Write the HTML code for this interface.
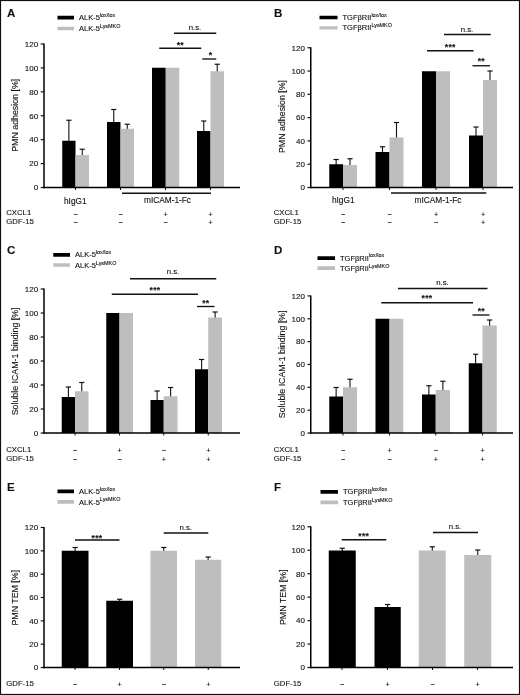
<!DOCTYPE html>
<html lang="en"><head><meta charset="utf-8"><title>Figure</title>
<style>
html,body{margin:0;padding:0;background:#fff;}
body{width:520px;height:695px;overflow:hidden;}
svg{display:block;will-change:transform;}
svg text{font-family:"Liberation Sans", Arial, Helvetica, sans-serif;fill:#111;stroke:#111;stroke-width:0.12px;}
</style></head><body>
<svg width="520" height="695" viewBox="0 0 520 695">
<rect x="0" y="0" width="520" height="695" fill="#fff"/>
<line x1="68.875" y1="141.75" x2="68.875" y2="120.25" stroke="#111" stroke-width="1.1"/>
<line x1="66.275" y1="120.25" x2="71.475" y2="120.25" stroke="#111" stroke-width="1.2"/>
<rect x="62.25" y="140.75" width="13.25" height="46.75" fill="#000"/>
<line x1="82.25" y1="156" x2="82.25" y2="149.25" stroke="#111" stroke-width="1.1"/>
<line x1="79.65" y1="149.25" x2="84.85" y2="149.25" stroke="#111" stroke-width="1.2"/>
<rect x="75.5" y="155" width="13.5" height="32.5" fill="#bebebe"/>
<line x1="113.75" y1="123" x2="113.75" y2="109.5" stroke="#111" stroke-width="1.1"/>
<line x1="111.15" y1="109.5" x2="116.35" y2="109.5" stroke="#111" stroke-width="1.2"/>
<rect x="107" y="122" width="13.5" height="65.5" fill="#000"/>
<line x1="127.25" y1="129.75" x2="127.25" y2="124.25" stroke="#111" stroke-width="1.1"/>
<line x1="124.65" y1="124.25" x2="129.85" y2="124.25" stroke="#111" stroke-width="1.2"/>
<rect x="120.5" y="128.75" width="13.5" height="58.75" fill="#bebebe"/>
<rect x="152" y="67.75" width="13.75" height="119.75" fill="#000"/>
<rect x="165.75" y="67.75" width="13.5" height="119.75" fill="#bebebe"/>
<line x1="203.75" y1="132" x2="203.75" y2="121" stroke="#111" stroke-width="1.1"/>
<line x1="201.15" y1="121" x2="206.35" y2="121" stroke="#111" stroke-width="1.2"/>
<rect x="197" y="131" width="13.5" height="56.5" fill="#000"/>
<line x1="217.25" y1="72.25" x2="217.25" y2="64.25" stroke="#111" stroke-width="1.1"/>
<line x1="214.65" y1="64.25" x2="219.85" y2="64.25" stroke="#111" stroke-width="1.2"/>
<rect x="210.5" y="71.25" width="13.5" height="116.25" fill="#bebebe"/>
<line x1="44" y1="43.5" x2="44" y2="188.2" stroke="#000" stroke-width="1.5"/>
<line x1="43.3" y1="187.5" x2="240" y2="187.5" stroke="#000" stroke-width="1.5"/>
<line x1="40.7" y1="187.5" x2="44" y2="187.5" stroke="#111" stroke-width="1.2"/>
<text x="38.2" y="190.3" font-size="8.0" text-anchor="end" font-weight="normal" >0</text>
<line x1="40.7" y1="163.58" x2="44" y2="163.58" stroke="#111" stroke-width="1.2"/>
<text x="38.2" y="166.38" font-size="8.0" text-anchor="end" font-weight="normal" >20</text>
<line x1="40.7" y1="139.67" x2="44" y2="139.67" stroke="#111" stroke-width="1.2"/>
<text x="38.2" y="142.47" font-size="8.0" text-anchor="end" font-weight="normal" >40</text>
<line x1="40.7" y1="115.75" x2="44" y2="115.75" stroke="#111" stroke-width="1.2"/>
<text x="38.2" y="118.55" font-size="8.0" text-anchor="end" font-weight="normal" >60</text>
<line x1="40.7" y1="91.83" x2="44" y2="91.83" stroke="#111" stroke-width="1.2"/>
<text x="38.2" y="94.63" font-size="8.0" text-anchor="end" font-weight="normal" >80</text>
<line x1="40.7" y1="67.92" x2="44" y2="67.92" stroke="#111" stroke-width="1.2"/>
<text x="38.2" y="70.72" font-size="8.0" text-anchor="end" font-weight="normal" >100</text>
<line x1="40.7" y1="44.0" x2="44" y2="44.0" stroke="#111" stroke-width="1.2"/>
<text x="38.2" y="46.8" font-size="8.0" text-anchor="end" font-weight="normal" >120</text>
<line x1="75.5" y1="187.5" x2="75.5" y2="190.0" stroke="#111" stroke-width="1.0"/>
<line x1="120.5" y1="187.5" x2="120.5" y2="190.0" stroke="#111" stroke-width="1.0"/>
<line x1="165.5" y1="187.5" x2="165.5" y2="190.0" stroke="#111" stroke-width="1.0"/>
<line x1="210.5" y1="187.5" x2="210.5" y2="190.0" stroke="#111" stroke-width="1.0"/>
<text x="75.3" y="203.7" font-size="8.3" text-anchor="middle" font-weight="normal" >hIgG1</text>
<text x="167.5" y="203.25" font-size="8.3" text-anchor="middle" font-weight="normal" >mICAM-1-Fc</text>
<line x1="122" y1="193.25" x2="211" y2="193.25" stroke="#111" stroke-width="1.3"/>
<text x="6.25" y="215.25" font-size="7.75" text-anchor="start" font-weight="normal" >CXCL1</text>
<text x="6.25" y="224" font-size="7.75" text-anchor="start" font-weight="normal" >GDF-15</text>
<text x="75.5" y="216.5" font-size="7.2" text-anchor="middle" font-weight="normal" >−</text>
<text x="120.5" y="216.5" font-size="7.2" text-anchor="middle" font-weight="normal" >−</text>
<text x="165.5" y="216.5" font-size="7.2" text-anchor="middle" font-weight="normal" >+</text>
<text x="210.5" y="216.5" font-size="7.2" text-anchor="middle" font-weight="normal" >+</text>
<text x="75.5" y="225.25" font-size="7.2" text-anchor="middle" font-weight="normal" >−</text>
<text x="120.5" y="225.25" font-size="7.2" text-anchor="middle" font-weight="normal" >−</text>
<text x="165.5" y="225.25" font-size="7.2" text-anchor="middle" font-weight="normal" >−</text>
<text x="210.5" y="225.25" font-size="7.2" text-anchor="middle" font-weight="normal" >+</text>
<line x1="174" y1="33.25" x2="216.25" y2="33.25" stroke="#111" stroke-width="1.35"/>
<text x="195" y="30.3" font-size="7.8" text-anchor="middle" font-weight="normal" >n.s.</text>
<line x1="159.25" y1="48.25" x2="201.25" y2="48.25" stroke="#111" stroke-width="1.35"/>
<text x="180.25" y="47.65" font-size="8.6" text-anchor="middle" font-weight="bold" stroke-width="0" letter-spacing="0.25">**</text>
<line x1="202.25" y1="59" x2="216.25" y2="59" stroke="#111" stroke-width="1.35"/>
<text x="210.5" y="57.9" font-size="8.6" text-anchor="middle" font-weight="bold" stroke-width="0" letter-spacing="0.25">*</text>
<rect x="57.5" y="15.75" width="16.5" height="3.75" fill="#000"/>
<rect x="57.5" y="26.75" width="16.5" height="3.5" fill="#bebebe"/>
<text x="79" y="20" font-size="7.5">ALK-5<tspan font-size="5.4" dy="-3.1">lox/lox</tspan></text>
<text x="79" y="30.75" font-size="7.5">ALK-5<tspan font-size="5.4" dy="-3.1">LysMKO</tspan></text>
<text x="7" y="17" font-size="11.5" text-anchor="start" font-weight="bold" >A</text>
<text transform="translate(18,115.3) rotate(-90) scale(0.93,1)" font-size="9.5" text-anchor="middle">PMN adhesion [%]</text>
<line x1="336.125" y1="165.25" x2="336.125" y2="159.5" stroke="#111" stroke-width="1.1"/>
<line x1="333.525" y1="159.5" x2="338.725" y2="159.5" stroke="#111" stroke-width="1.2"/>
<rect x="329.25" y="164.25" width="13.75" height="23.25" fill="#000"/>
<line x1="350.0" y1="166" x2="350.0" y2="158.75" stroke="#111" stroke-width="1.1"/>
<line x1="347.4" y1="158.75" x2="352.6" y2="158.75" stroke="#111" stroke-width="1.2"/>
<rect x="343" y="165" width="14" height="22.5" fill="#bebebe"/>
<line x1="382.5" y1="153" x2="382.5" y2="146.75" stroke="#111" stroke-width="1.1"/>
<line x1="379.9" y1="146.75" x2="385.1" y2="146.75" stroke="#111" stroke-width="1.2"/>
<rect x="375.5" y="152" width="14.0" height="35.5" fill="#000"/>
<line x1="396.5" y1="138.5" x2="396.5" y2="122.5" stroke="#111" stroke-width="1.1"/>
<line x1="393.9" y1="122.5" x2="399.1" y2="122.5" stroke="#111" stroke-width="1.2"/>
<rect x="389.5" y="137.5" width="14.0" height="50.0" fill="#bebebe"/>
<rect x="422" y="71.25" width="14" height="116.25" fill="#000"/>
<rect x="436" y="71.25" width="14" height="116.25" fill="#bebebe"/>
<line x1="476.0" y1="136.5" x2="476.0" y2="127" stroke="#111" stroke-width="1.1"/>
<line x1="473.4" y1="127" x2="478.6" y2="127" stroke="#111" stroke-width="1.2"/>
<rect x="469" y="135.5" width="14" height="52.0" fill="#000"/>
<line x1="490.0" y1="81" x2="490.0" y2="71" stroke="#111" stroke-width="1.1"/>
<line x1="487.4" y1="71" x2="492.6" y2="71" stroke="#111" stroke-width="1.2"/>
<rect x="483" y="80" width="14" height="107.5" fill="#bebebe"/>
<line x1="310.75" y1="47.25" x2="310.75" y2="188.2" stroke="#000" stroke-width="1.5"/>
<line x1="310.05" y1="187.5" x2="513" y2="187.5" stroke="#000" stroke-width="1.5"/>
<line x1="307.45" y1="187.5" x2="310.75" y2="187.5" stroke="#111" stroke-width="1.2"/>
<text x="304.95" y="190.3" font-size="8.0" text-anchor="end" font-weight="normal" >0</text>
<line x1="307.45" y1="164.21" x2="310.75" y2="164.21" stroke="#111" stroke-width="1.2"/>
<text x="304.95" y="167.01" font-size="8.0" text-anchor="end" font-weight="normal" >20</text>
<line x1="307.45" y1="140.92" x2="310.75" y2="140.92" stroke="#111" stroke-width="1.2"/>
<text x="304.95" y="143.72" font-size="8.0" text-anchor="end" font-weight="normal" >40</text>
<line x1="307.45" y1="117.62" x2="310.75" y2="117.62" stroke="#111" stroke-width="1.2"/>
<text x="304.95" y="120.42" font-size="8.0" text-anchor="end" font-weight="normal" >60</text>
<line x1="307.45" y1="94.33" x2="310.75" y2="94.33" stroke="#111" stroke-width="1.2"/>
<text x="304.95" y="97.13" font-size="8.0" text-anchor="end" font-weight="normal" >80</text>
<line x1="307.45" y1="71.04" x2="310.75" y2="71.04" stroke="#111" stroke-width="1.2"/>
<text x="304.95" y="73.84" font-size="8.0" text-anchor="end" font-weight="normal" >100</text>
<line x1="307.45" y1="47.75" x2="310.75" y2="47.75" stroke="#111" stroke-width="1.2"/>
<text x="304.95" y="50.55" font-size="8.0" text-anchor="end" font-weight="normal" >120</text>
<line x1="343" y1="187.5" x2="343" y2="190.0" stroke="#111" stroke-width="1.0"/>
<line x1="389.5" y1="187.5" x2="389.5" y2="190.0" stroke="#111" stroke-width="1.0"/>
<line x1="436" y1="187.5" x2="436" y2="190.0" stroke="#111" stroke-width="1.0"/>
<line x1="483" y1="187.5" x2="483" y2="190.0" stroke="#111" stroke-width="1.0"/>
<text x="343.25" y="203.25" font-size="8.3" text-anchor="middle" font-weight="normal" >hIgG1</text>
<text x="438" y="203.25" font-size="8.3" text-anchor="middle" font-weight="normal" >mICAM-1-Fc</text>
<line x1="391" y1="193" x2="486.25" y2="193" stroke="#111" stroke-width="1.3"/>
<text x="273.75" y="215.25" font-size="7.75" text-anchor="start" font-weight="normal" >CXCL1</text>
<text x="273.75" y="224" font-size="7.75" text-anchor="start" font-weight="normal" >GDF-15</text>
<text x="343" y="216.5" font-size="7.2" text-anchor="middle" font-weight="normal" >−</text>
<text x="389.5" y="216.5" font-size="7.2" text-anchor="middle" font-weight="normal" >−</text>
<text x="436" y="216.5" font-size="7.2" text-anchor="middle" font-weight="normal" >+</text>
<text x="483" y="216.5" font-size="7.2" text-anchor="middle" font-weight="normal" >+</text>
<text x="343" y="225.25" font-size="7.2" text-anchor="middle" font-weight="normal" >−</text>
<text x="389.5" y="225.25" font-size="7.2" text-anchor="middle" font-weight="normal" >−</text>
<text x="436" y="225.25" font-size="7.2" text-anchor="middle" font-weight="normal" >−</text>
<text x="483" y="225.25" font-size="7.2" text-anchor="middle" font-weight="normal" >+</text>
<line x1="444" y1="34.5" x2="490.75" y2="34.5" stroke="#111" stroke-width="1.35"/>
<text x="467" y="31.55" font-size="7.8" text-anchor="middle" font-weight="normal" >n.s.</text>
<line x1="427" y1="50.75" x2="473.5" y2="50.75" stroke="#111" stroke-width="1.35"/>
<text x="450.25" y="49.65" font-size="8.6" text-anchor="middle" font-weight="bold" stroke-width="0" letter-spacing="0.25">***</text>
<line x1="472.5" y1="65.75" x2="490" y2="65.75" stroke="#111" stroke-width="1.35"/>
<text x="481.25" y="63.9" font-size="8.6" text-anchor="middle" font-weight="bold" stroke-width="0" letter-spacing="0.25">**</text>
<rect x="319.5" y="15.75" width="18.0" height="3.5" fill="#000"/>
<rect x="319.5" y="26.25" width="18.0" height="3.25" fill="#bebebe"/>
<text x="342.5" y="19.75" font-size="7.5">TGFβRII<tspan font-size="5.4" dy="-3.1">lox/lox</tspan></text>
<text x="342.5" y="30.25" font-size="7.5">TGFβRII<tspan font-size="5.4" dy="-3.1">LysMKO</tspan></text>
<text x="274" y="17" font-size="11.5" text-anchor="start" font-weight="bold" >B</text>
<text transform="translate(285,116.5) rotate(-90) scale(0.93,1)" font-size="9.5" text-anchor="middle">PMN adhesion [%]</text>
<line x1="68.375" y1="398" x2="68.375" y2="387" stroke="#111" stroke-width="1.1"/>
<line x1="65.775" y1="387" x2="70.975" y2="387" stroke="#111" stroke-width="1.2"/>
<rect x="61.75" y="397" width="13.25" height="36" fill="#000"/>
<line x1="81.75" y1="392.25" x2="81.75" y2="382.5" stroke="#111" stroke-width="1.1"/>
<line x1="79.15" y1="382.5" x2="84.35" y2="382.5" stroke="#111" stroke-width="1.2"/>
<rect x="75" y="391.25" width="13.5" height="41.75" fill="#bebebe"/>
<rect x="106.25" y="313" width="13.25" height="120" fill="#000"/>
<rect x="119.5" y="313" width="13.5" height="120" fill="#bebebe"/>
<line x1="157.125" y1="401" x2="157.125" y2="391" stroke="#111" stroke-width="1.1"/>
<line x1="154.525" y1="391" x2="159.725" y2="391" stroke="#111" stroke-width="1.2"/>
<rect x="150.5" y="400" width="13.25" height="33" fill="#000"/>
<line x1="170.625" y1="397.25" x2="170.625" y2="387.5" stroke="#111" stroke-width="1.1"/>
<line x1="168.025" y1="387.5" x2="173.225" y2="387.5" stroke="#111" stroke-width="1.2"/>
<rect x="163.75" y="396.25" width="13.75" height="36.75" fill="#bebebe"/>
<line x1="201.625" y1="370.25" x2="201.625" y2="359.5" stroke="#111" stroke-width="1.1"/>
<line x1="199.025" y1="359.5" x2="204.225" y2="359.5" stroke="#111" stroke-width="1.2"/>
<rect x="195" y="369.25" width="13.25" height="63.75" fill="#000"/>
<line x1="215.125" y1="318.5" x2="215.125" y2="312" stroke="#111" stroke-width="1.1"/>
<line x1="212.525" y1="312" x2="217.725" y2="312" stroke="#111" stroke-width="1.2"/>
<rect x="208.25" y="317.5" width="13.75" height="115.5" fill="#bebebe"/>
<line x1="44" y1="288.5" x2="44" y2="433.7" stroke="#000" stroke-width="1.5"/>
<line x1="43.3" y1="433" x2="240" y2="433" stroke="#000" stroke-width="1.5"/>
<line x1="40.7" y1="433.0" x2="44" y2="433.0" stroke="#111" stroke-width="1.2"/>
<text x="38.2" y="435.8" font-size="8.0" text-anchor="end" font-weight="normal" >0</text>
<line x1="40.7" y1="409.0" x2="44" y2="409.0" stroke="#111" stroke-width="1.2"/>
<text x="38.2" y="411.8" font-size="8.0" text-anchor="end" font-weight="normal" >20</text>
<line x1="40.7" y1="385.0" x2="44" y2="385.0" stroke="#111" stroke-width="1.2"/>
<text x="38.2" y="387.8" font-size="8.0" text-anchor="end" font-weight="normal" >40</text>
<line x1="40.7" y1="361.0" x2="44" y2="361.0" stroke="#111" stroke-width="1.2"/>
<text x="38.2" y="363.8" font-size="8.0" text-anchor="end" font-weight="normal" >60</text>
<line x1="40.7" y1="337.0" x2="44" y2="337.0" stroke="#111" stroke-width="1.2"/>
<text x="38.2" y="339.8" font-size="8.0" text-anchor="end" font-weight="normal" >80</text>
<line x1="40.7" y1="313.0" x2="44" y2="313.0" stroke="#111" stroke-width="1.2"/>
<text x="38.2" y="315.8" font-size="8.0" text-anchor="end" font-weight="normal" >100</text>
<line x1="40.7" y1="289.0" x2="44" y2="289.0" stroke="#111" stroke-width="1.2"/>
<text x="38.2" y="291.8" font-size="8.0" text-anchor="end" font-weight="normal" >120</text>
<line x1="75" y1="433" x2="75" y2="435.5" stroke="#111" stroke-width="1.0"/>
<line x1="119.5" y1="433" x2="119.5" y2="435.5" stroke="#111" stroke-width="1.0"/>
<line x1="163.75" y1="433" x2="163.75" y2="435.5" stroke="#111" stroke-width="1.0"/>
<line x1="208.25" y1="433" x2="208.25" y2="435.5" stroke="#111" stroke-width="1.0"/>
<text x="6.25" y="451.75" font-size="7.75" text-anchor="start" font-weight="normal" >CXCL1</text>
<text x="6.25" y="460.75" font-size="7.75" text-anchor="start" font-weight="normal" >GDF-15</text>
<text x="75" y="452.75" font-size="7.2" text-anchor="middle" font-weight="normal" >−</text>
<text x="119.5" y="452.75" font-size="7.2" text-anchor="middle" font-weight="normal" >+</text>
<text x="163.75" y="452.75" font-size="7.2" text-anchor="middle" font-weight="normal" >−</text>
<text x="208.25" y="452.75" font-size="7.2" text-anchor="middle" font-weight="normal" >+</text>
<text x="75" y="462.0" font-size="7.2" text-anchor="middle" font-weight="normal" >−</text>
<text x="119.5" y="462.0" font-size="7.2" text-anchor="middle" font-weight="normal" >−</text>
<text x="163.75" y="462.0" font-size="7.2" text-anchor="middle" font-weight="normal" >+</text>
<text x="208.25" y="462.0" font-size="7.2" text-anchor="middle" font-weight="normal" >+</text>
<line x1="130" y1="278.75" x2="216.25" y2="278.75" stroke="#111" stroke-width="1.35"/>
<text x="173" y="274.3" font-size="7.8" text-anchor="middle" font-weight="normal" >n.s.</text>
<line x1="111.75" y1="294.25" x2="198" y2="294.25" stroke="#111" stroke-width="1.35"/>
<text x="155" y="292.65" font-size="8.6" text-anchor="middle" font-weight="bold" stroke-width="0" letter-spacing="0.25">***</text>
<line x1="197" y1="306.5" x2="214.5" y2="306.5" stroke="#111" stroke-width="1.35"/>
<text x="205.75" y="305.9" font-size="8.6" text-anchor="middle" font-weight="bold" stroke-width="0" letter-spacing="0.25">**</text>
<rect x="53.25" y="253" width="16.75" height="3.75" fill="#000"/>
<rect x="53.25" y="263.25" width="16.75" height="3.5" fill="#bebebe"/>
<text x="75" y="257" font-size="7.5">ALK-5<tspan font-size="5.4" dy="-3.1">lox/lox</tspan></text>
<text x="75" y="267.75" font-size="7.5">ALK-5<tspan font-size="5.4" dy="-3.1">LysMKO</tspan></text>
<text x="7" y="254.25" font-size="11.5" text-anchor="start" font-weight="bold" >C</text>
<text transform="translate(18,361.4) rotate(-90) scale(0.93,1)" font-size="9.5" text-anchor="middle">Soluble ICAM-1 binding [%]</text>
<line x1="336.125" y1="397.5" x2="336.125" y2="387.5" stroke="#111" stroke-width="1.1"/>
<line x1="333.525" y1="387.5" x2="338.725" y2="387.5" stroke="#111" stroke-width="1.2"/>
<rect x="329.25" y="396.5" width="13.75" height="36.5" fill="#000"/>
<line x1="350.0" y1="388.25" x2="350.0" y2="379.25" stroke="#111" stroke-width="1.1"/>
<line x1="347.4" y1="379.25" x2="352.6" y2="379.25" stroke="#111" stroke-width="1.2"/>
<rect x="343" y="387.25" width="14" height="45.75" fill="#bebebe"/>
<rect x="375.5" y="318.75" width="14.0" height="114.25" fill="#000"/>
<rect x="389.5" y="318.75" width="13.75" height="114.25" fill="#bebebe"/>
<line x1="428.875" y1="395.5" x2="428.875" y2="385.75" stroke="#111" stroke-width="1.1"/>
<line x1="426.275" y1="385.75" x2="431.475" y2="385.75" stroke="#111" stroke-width="1.2"/>
<rect x="422" y="394.5" width="13.75" height="38.5" fill="#000"/>
<line x1="442.875" y1="391" x2="442.875" y2="381.25" stroke="#111" stroke-width="1.1"/>
<line x1="440.275" y1="381.25" x2="445.475" y2="381.25" stroke="#111" stroke-width="1.2"/>
<rect x="435.75" y="390" width="14.25" height="43" fill="#bebebe"/>
<line x1="475.625" y1="364.25" x2="475.625" y2="354.25" stroke="#111" stroke-width="1.1"/>
<line x1="473.025" y1="354.25" x2="478.225" y2="354.25" stroke="#111" stroke-width="1.2"/>
<rect x="468.75" y="363.25" width="13.75" height="69.75" fill="#000"/>
<line x1="489.625" y1="326.5" x2="489.625" y2="320" stroke="#111" stroke-width="1.1"/>
<line x1="487.025" y1="320" x2="492.225" y2="320" stroke="#111" stroke-width="1.2"/>
<rect x="482.5" y="325.5" width="14.25" height="107.5" fill="#bebebe"/>
<line x1="310.75" y1="295.4" x2="310.75" y2="433.7" stroke="#000" stroke-width="1.5"/>
<line x1="310.05" y1="433" x2="513" y2="433" stroke="#000" stroke-width="1.5"/>
<line x1="307.45" y1="433.0" x2="310.75" y2="433.0" stroke="#111" stroke-width="1.2"/>
<text x="304.95" y="435.8" font-size="8.0" text-anchor="end" font-weight="normal" >0</text>
<line x1="307.45" y1="410.15" x2="310.75" y2="410.15" stroke="#111" stroke-width="1.2"/>
<text x="304.95" y="412.95" font-size="8.0" text-anchor="end" font-weight="normal" >20</text>
<line x1="307.45" y1="387.3" x2="310.75" y2="387.3" stroke="#111" stroke-width="1.2"/>
<text x="304.95" y="390.1" font-size="8.0" text-anchor="end" font-weight="normal" >40</text>
<line x1="307.45" y1="364.45" x2="310.75" y2="364.45" stroke="#111" stroke-width="1.2"/>
<text x="304.95" y="367.25" font-size="8.0" text-anchor="end" font-weight="normal" >60</text>
<line x1="307.45" y1="341.6" x2="310.75" y2="341.6" stroke="#111" stroke-width="1.2"/>
<text x="304.95" y="344.4" font-size="8.0" text-anchor="end" font-weight="normal" >80</text>
<line x1="307.45" y1="318.75" x2="310.75" y2="318.75" stroke="#111" stroke-width="1.2"/>
<text x="304.95" y="321.55" font-size="8.0" text-anchor="end" font-weight="normal" >100</text>
<line x1="307.45" y1="295.9" x2="310.75" y2="295.9" stroke="#111" stroke-width="1.2"/>
<text x="304.95" y="298.7" font-size="8.0" text-anchor="end" font-weight="normal" >120</text>
<line x1="343" y1="433" x2="343" y2="435.5" stroke="#111" stroke-width="1.0"/>
<line x1="389.5" y1="433" x2="389.5" y2="435.5" stroke="#111" stroke-width="1.0"/>
<line x1="435.75" y1="433" x2="435.75" y2="435.5" stroke="#111" stroke-width="1.0"/>
<line x1="482.5" y1="433" x2="482.5" y2="435.5" stroke="#111" stroke-width="1.0"/>
<text x="273.75" y="451.75" font-size="7.75" text-anchor="start" font-weight="normal" >CXCL1</text>
<text x="273.75" y="460.75" font-size="7.75" text-anchor="start" font-weight="normal" >GDF-15</text>
<text x="343" y="452.75" font-size="7.2" text-anchor="middle" font-weight="normal" >−</text>
<text x="389.5" y="452.75" font-size="7.2" text-anchor="middle" font-weight="normal" >+</text>
<text x="435.75" y="452.75" font-size="7.2" text-anchor="middle" font-weight="normal" >−</text>
<text x="482.5" y="452.75" font-size="7.2" text-anchor="middle" font-weight="normal" >+</text>
<text x="343" y="462.0" font-size="7.2" text-anchor="middle" font-weight="normal" >−</text>
<text x="389.5" y="462.0" font-size="7.2" text-anchor="middle" font-weight="normal" >−</text>
<text x="435.75" y="462.0" font-size="7.2" text-anchor="middle" font-weight="normal" >+</text>
<text x="482.5" y="462.0" font-size="7.2" text-anchor="middle" font-weight="normal" >+</text>
<line x1="398" y1="288.5" x2="487.5" y2="288.5" stroke="#111" stroke-width="1.35"/>
<text x="442.5" y="284.8" font-size="7.8" text-anchor="middle" font-weight="normal" >n.s.</text>
<line x1="381.25" y1="302.75" x2="473" y2="302.75" stroke="#111" stroke-width="1.35"/>
<text x="427" y="301.4" font-size="8.6" text-anchor="middle" font-weight="bold" stroke-width="0" letter-spacing="0.25">***</text>
<line x1="472.5" y1="315" x2="489.5" y2="315" stroke="#111" stroke-width="1.35"/>
<text x="481.25" y="314.4" font-size="8.6" text-anchor="middle" font-weight="bold" stroke-width="0" letter-spacing="0.25">**</text>
<rect x="317.5" y="256.25" width="17.5" height="3.75" fill="#000"/>
<rect x="317.5" y="266.25" width="17.5" height="3.75" fill="#bebebe"/>
<text x="340" y="260.5" font-size="7.5">TGFβRII<tspan font-size="5.4" dy="-3.1">lox/lox</tspan></text>
<text x="340" y="270.75" font-size="7.5">TGFβRII<tspan font-size="5.4" dy="-3.1">LysMKO</tspan></text>
<text x="274" y="254.25" font-size="11.5" text-anchor="start" font-weight="bold" >D</text>
<text transform="translate(284.5,364.3) rotate(-90) scale(0.93,1)" font-size="9.5" text-anchor="middle">Soluble ICAM-1 binding [%]</text>
<line x1="75.125" y1="551.75" x2="75.125" y2="547.5" stroke="#111" stroke-width="1.1"/>
<line x1="72.525" y1="547.5" x2="77.725" y2="547.5" stroke="#111" stroke-width="1.2"/>
<rect x="61.75" y="550.75" width="26.75" height="116.75" fill="#000"/>
<line x1="119.625" y1="601.75" x2="119.625" y2="599.25" stroke="#111" stroke-width="1.1"/>
<line x1="117.025" y1="599.25" x2="122.225" y2="599.25" stroke="#111" stroke-width="1.2"/>
<rect x="106.25" y="600.75" width="26.75" height="66.75" fill="#000"/>
<line x1="163.75" y1="551.75" x2="163.75" y2="547.5" stroke="#111" stroke-width="1.1"/>
<line x1="161.15" y1="547.5" x2="166.35" y2="547.5" stroke="#111" stroke-width="1.2"/>
<rect x="150.5" y="550.75" width="26.5" height="116.75" fill="#bebebe"/>
<line x1="208.125" y1="560.75" x2="208.125" y2="557" stroke="#111" stroke-width="1.1"/>
<line x1="205.525" y1="557" x2="210.725" y2="557" stroke="#111" stroke-width="1.2"/>
<rect x="195" y="559.75" width="26.25" height="107.75" fill="#bebebe"/>
<line x1="44" y1="527.0" x2="44" y2="668.2" stroke="#000" stroke-width="1.5"/>
<line x1="43.3" y1="667.5" x2="240" y2="667.5" stroke="#000" stroke-width="1.5"/>
<line x1="40.7" y1="667.5" x2="44" y2="667.5" stroke="#111" stroke-width="1.2"/>
<text x="38.2" y="670.3" font-size="8.0" text-anchor="end" font-weight="normal" >0</text>
<line x1="40.7" y1="644.17" x2="44" y2="644.17" stroke="#111" stroke-width="1.2"/>
<text x="38.2" y="646.97" font-size="8.0" text-anchor="end" font-weight="normal" >20</text>
<line x1="40.7" y1="620.83" x2="44" y2="620.83" stroke="#111" stroke-width="1.2"/>
<text x="38.2" y="623.63" font-size="8.0" text-anchor="end" font-weight="normal" >40</text>
<line x1="40.7" y1="597.5" x2="44" y2="597.5" stroke="#111" stroke-width="1.2"/>
<text x="38.2" y="600.3" font-size="8.0" text-anchor="end" font-weight="normal" >60</text>
<line x1="40.7" y1="574.17" x2="44" y2="574.17" stroke="#111" stroke-width="1.2"/>
<text x="38.2" y="576.97" font-size="8.0" text-anchor="end" font-weight="normal" >80</text>
<line x1="40.7" y1="550.83" x2="44" y2="550.83" stroke="#111" stroke-width="1.2"/>
<text x="38.2" y="553.63" font-size="8.0" text-anchor="end" font-weight="normal" >100</text>
<line x1="40.7" y1="527.5" x2="44" y2="527.5" stroke="#111" stroke-width="1.2"/>
<text x="38.2" y="530.3" font-size="8.0" text-anchor="end" font-weight="normal" >120</text>
<line x1="75" y1="667.5" x2="75" y2="670.0" stroke="#111" stroke-width="1.0"/>
<line x1="119.5" y1="667.5" x2="119.5" y2="670.0" stroke="#111" stroke-width="1.0"/>
<line x1="163.75" y1="667.5" x2="163.75" y2="670.0" stroke="#111" stroke-width="1.0"/>
<line x1="208.25" y1="667.5" x2="208.25" y2="670.0" stroke="#111" stroke-width="1.0"/>
<text x="6.25" y="685.75" font-size="7.75" text-anchor="start" font-weight="normal" >GDF-15</text>
<text x="75" y="687.0" font-size="7.2" text-anchor="middle" font-weight="normal" >−</text>
<text x="119.5" y="687.0" font-size="7.2" text-anchor="middle" font-weight="normal" >+</text>
<text x="163.75" y="687.0" font-size="7.2" text-anchor="middle" font-weight="normal" >−</text>
<text x="208.25" y="687.0" font-size="7.2" text-anchor="middle" font-weight="normal" >+</text>
<line x1="75" y1="540" x2="119.5" y2="540" stroke="#111" stroke-width="1.35"/>
<text x="97" y="540.65" font-size="8.6" text-anchor="middle" font-weight="bold" stroke-width="0" letter-spacing="0.25">***</text>
<line x1="163.75" y1="533" x2="208.25" y2="533" stroke="#111" stroke-width="1.35"/>
<text x="185.75" y="529.8" font-size="7.8" text-anchor="middle" font-weight="normal" >n.s.</text>
<rect x="57.5" y="489.5" width="16.5" height="3.75" fill="#000"/>
<rect x="57.5" y="500" width="16.5" height="3.75" fill="#bebebe"/>
<text x="79" y="493.75" font-size="7.5">ALK-5<tspan font-size="5.4" dy="-3.1">lox/lox</tspan></text>
<text x="79" y="504.5" font-size="7.5">ALK-5<tspan font-size="5.4" dy="-3.1">LysMKO</tspan></text>
<text x="7" y="490.75" font-size="11.5" text-anchor="start" font-weight="bold" >E</text>
<text transform="translate(18,597.75) rotate(-90) scale(0.93,1)" font-size="9.5" text-anchor="middle">PMN TEM [%]</text>
<line x1="342.25" y1="551.5" x2="342.25" y2="548.25" stroke="#111" stroke-width="1.1"/>
<line x1="339.65" y1="548.25" x2="344.85" y2="548.25" stroke="#111" stroke-width="1.2"/>
<rect x="328.75" y="550.5" width="27.0" height="117.0" fill="#000"/>
<line x1="387.625" y1="608" x2="387.625" y2="604.5" stroke="#111" stroke-width="1.1"/>
<line x1="385.025" y1="604.5" x2="390.225" y2="604.5" stroke="#111" stroke-width="1.2"/>
<rect x="374.5" y="607" width="26.25" height="60.5" fill="#000"/>
<line x1="432.25" y1="551.5" x2="432.25" y2="546.75" stroke="#111" stroke-width="1.1"/>
<line x1="429.65" y1="546.75" x2="434.85" y2="546.75" stroke="#111" stroke-width="1.2"/>
<rect x="418.75" y="550.5" width="27.0" height="117.0" fill="#bebebe"/>
<line x1="477.75" y1="556" x2="477.75" y2="550" stroke="#111" stroke-width="1.1"/>
<line x1="475.15" y1="550" x2="480.35" y2="550" stroke="#111" stroke-width="1.2"/>
<rect x="464.25" y="555" width="27.0" height="112.5" fill="#bebebe"/>
<line x1="310.75" y1="526.3" x2="310.75" y2="668.2" stroke="#000" stroke-width="1.5"/>
<line x1="310.05" y1="667.5" x2="513" y2="667.5" stroke="#000" stroke-width="1.5"/>
<line x1="307.45" y1="667.5" x2="310.75" y2="667.5" stroke="#111" stroke-width="1.2"/>
<text x="304.95" y="670.3" font-size="8.0" text-anchor="end" font-weight="normal" >0</text>
<line x1="307.45" y1="644.05" x2="310.75" y2="644.05" stroke="#111" stroke-width="1.2"/>
<text x="304.95" y="646.85" font-size="8.0" text-anchor="end" font-weight="normal" >20</text>
<line x1="307.45" y1="620.6" x2="310.75" y2="620.6" stroke="#111" stroke-width="1.2"/>
<text x="304.95" y="623.4" font-size="8.0" text-anchor="end" font-weight="normal" >40</text>
<line x1="307.45" y1="597.15" x2="310.75" y2="597.15" stroke="#111" stroke-width="1.2"/>
<text x="304.95" y="599.95" font-size="8.0" text-anchor="end" font-weight="normal" >60</text>
<line x1="307.45" y1="573.7" x2="310.75" y2="573.7" stroke="#111" stroke-width="1.2"/>
<text x="304.95" y="576.5" font-size="8.0" text-anchor="end" font-weight="normal" >80</text>
<line x1="307.45" y1="550.25" x2="310.75" y2="550.25" stroke="#111" stroke-width="1.2"/>
<text x="304.95" y="553.05" font-size="8.0" text-anchor="end" font-weight="normal" >100</text>
<line x1="307.45" y1="526.8" x2="310.75" y2="526.8" stroke="#111" stroke-width="1.2"/>
<text x="304.95" y="529.6" font-size="8.0" text-anchor="end" font-weight="normal" >120</text>
<line x1="342" y1="667.5" x2="342" y2="670.0" stroke="#111" stroke-width="1.0"/>
<line x1="387.5" y1="667.5" x2="387.5" y2="670.0" stroke="#111" stroke-width="1.0"/>
<line x1="432.5" y1="667.5" x2="432.5" y2="670.0" stroke="#111" stroke-width="1.0"/>
<line x1="477.5" y1="667.5" x2="477.5" y2="670.0" stroke="#111" stroke-width="1.0"/>
<text x="273.75" y="685.75" font-size="7.75" text-anchor="start" font-weight="normal" >GDF-15</text>
<text x="342" y="687.0" font-size="7.2" text-anchor="middle" font-weight="normal" >−</text>
<text x="387.5" y="687.0" font-size="7.2" text-anchor="middle" font-weight="normal" >+</text>
<text x="432.5" y="687.0" font-size="7.2" text-anchor="middle" font-weight="normal" >−</text>
<text x="477.5" y="687.0" font-size="7.2" text-anchor="middle" font-weight="normal" >+</text>
<line x1="341.75" y1="539.75" x2="386.25" y2="539.75" stroke="#111" stroke-width="1.35"/>
<text x="363.75" y="538.9" font-size="8.6" text-anchor="middle" font-weight="bold" stroke-width="0" letter-spacing="0.25">***</text>
<line x1="433" y1="532.5" x2="478" y2="532.5" stroke="#111" stroke-width="1.35"/>
<text x="455" y="529.05" font-size="7.8" text-anchor="middle" font-weight="normal" >n.s.</text>
<rect x="320.5" y="490" width="17.5" height="3.75" fill="#000"/>
<rect x="320.5" y="500.5" width="17.5" height="3.75" fill="#bebebe"/>
<text x="343" y="494.25" font-size="7.5">TGFβRII<tspan font-size="5.4" dy="-3.1">lox/lox</tspan></text>
<text x="343" y="505" font-size="7.5">TGFβRII<tspan font-size="5.4" dy="-3.1">LysMKO</tspan></text>
<text x="274" y="490.75" font-size="11.5" text-anchor="start" font-weight="bold" >F</text>
<text transform="translate(285.5,597.25) rotate(-90) scale(0.93,1)" font-size="9.5" text-anchor="middle">PMN TEM [%]</text>
<rect x="0.5" y="0.5" width="519" height="694" fill="none" stroke="#111" stroke-width="1.2"/>
</svg>
</body></html>
